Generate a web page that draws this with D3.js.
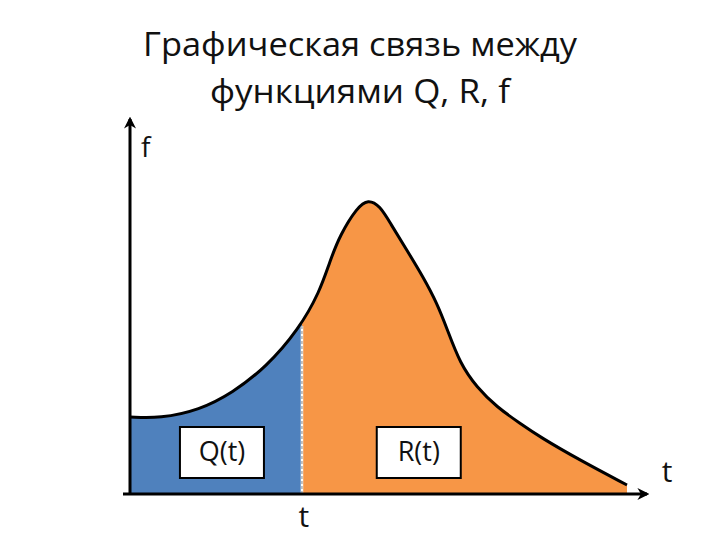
<!DOCTYPE html>
<html>
<head>
<meta charset="utf-8">
<script src="https://d3js.org/d3.v7.min.js"></script>
<style>
body { margin: 0; background: #fff; overflow: hidden; }
text { font-family: "Open Sans", "Noto Sans", sans-serif; fill: #111; }
</style>
</head>
<body>
<svg width="720" height="540"></svg>
<script>
// curve f(t) (t in 0..100, f in 0..100)
const tValues = [0, 6, 14, 20.6, 27.4, 34, 38.2, 40.2, 42.3, 45.7, 47.9, 50.3, 52.3, 55.7, 59, 61.8, 63.8, 66.4, 69.8, 73.8, 78.5, 82.5, 90.5, 100];
const fValues = [25.7, 25.2, 28, 33.7, 42.3, 55, 67.5, 77.5, 86.5, 95.5, 98.3, 96, 90.5, 81.3, 72.3, 63.5, 55, 43.5, 35.5, 29, 23.5, 19, 11.3, 3];
const splitT = 34.6;
const titleLines = ['Графическая связь между', 'функциями Q, R, f'];
const areaLabels = [{text: 'Q(t)', t: 18.5}, {text: 'R(t)', t: 58.1}];

const data = tValues.map((t, i) => ({t, f: fValues[i]}));

const svg = d3.select('svg');
const x = d3.scaleLinear().domain([0, 100]).range([130, 627]);
const y = d3.scaleLinear().domain([0, 100]).range([494, 194]);

const defs = svg.append('defs');
defs.append('clipPath').attr('id', 'clipQ')
  .append('rect').attr('x', 0).attr('y', 0).attr('width', x(splitT)).attr('height', 540);
defs.append('clipPath').attr('id', 'clipR')
  .append('rect').attr('x', x(splitT)).attr('y', 0).attr('width', 720).attr('height', 540);
defs.append('marker')
  .attr('id', 'arrow')
  .attr('viewBox', '0 0 10 10')
  .attr('refX', 8).attr('refY', 5)
  .attr('markerWidth', 4).attr('markerHeight', 4)
  .attr('orient', 'auto')
  .append('path').attr('d', 'M0,0 L10,5 L0,10 L3,5 Z').attr('fill', '#000');

const curve = d3.curveBasis;
const area = d3.area().x(d => x(d.t)).y0(y(0)).y1(d => y(d.f)).curve(curve);
const line = d3.line().x(d => x(d.t)).y(d => y(d.f)).curve(curve);

svg.append('path').datum(data)
  .attr('d', area).attr('fill', '#4f81bd').attr('clip-path', 'url(#clipQ)');
svg.append('path').datum(data)
  .attr('d', area).attr('fill', '#f79646').attr('clip-path', 'url(#clipR)');

// divider at t
svg.append('line')
  .attr('x1', x(splitT)).attr('x2', x(splitT))
  .attr('y1', y(0)).attr('y2', y(56))
  .attr('stroke', '#fff').attr('stroke-width', 2.5);
svg.append('line')
  .attr('x1', x(splitT)).attr('x2', x(splitT))
  .attr('y1', y(0)).attr('y2', y(56))
  .attr('stroke', '#666').attr('stroke-width', 0.8)
  .attr('stroke-dasharray', '3,2');

svg.append('path').datum(data)
  .attr('d', line).attr('fill', 'none')
  .attr('stroke', '#000').attr('stroke-width', 3);

// axes
svg.append('line')
  .attr('x1', 123).attr('y1', y(0)).attr('x2', 647).attr('y2', y(0))
  .attr('stroke', '#000').attr('stroke-width', 3)
  .attr('marker-end', 'url(#arrow)');
svg.append('line')
  .attr('x1', x(0)).attr('y1', y(0) + 1).attr('x2', x(0)).attr('y2', 119)
  .attr('stroke', '#000').attr('stroke-width', 3)
  .attr('marker-end', 'url(#arrow)');

// area label boxes
const boxes = svg.selectAll('.lbl').data(areaLabels).enter().append('g')
  .attr('class', 'lbl')
  .attr('transform', d => `translate(${x(d.t)},452)`);
boxes.append('rect')
  .attr('x', -42).attr('y', -25).attr('width', 84).attr('height', 51)
  .attr('fill', '#fff').attr('stroke', '#000').attr('stroke-width', 2);
boxes.append('text')
  .attr('text-anchor', 'middle').attr('dy', '0.35em')
  .attr('font-size', 27)
  .text(d => d.text);

// axis labels
svg.append('text').attr('x', 141).attr('y', 157).attr('font-size', 28).text('f');
svg.append('text').attr('x', x(splitT) + 2).attr('y', 527)
  .attr('text-anchor', 'middle').attr('font-size', 30).text('t');
svg.append('text').attr('x', 667).attr('y', 482)
  .attr('text-anchor', 'middle').attr('font-size', 30).text('t');

// title
svg.selectAll('.title').data(titleLines).enter().append('text')
  .attr('class', 'title')
  .attr('x', 360).attr('y', (d, i) => 56 + i * 47)
  .attr('text-anchor', 'middle')
  .attr('font-size', 33)
  .attr('textLength', (d, i) => i === 0 ? 434 : 300)
  .attr('lengthAdjust', 'spacingAndGlyphs')
  .text(d => d);
</script>
</body>
</html>
